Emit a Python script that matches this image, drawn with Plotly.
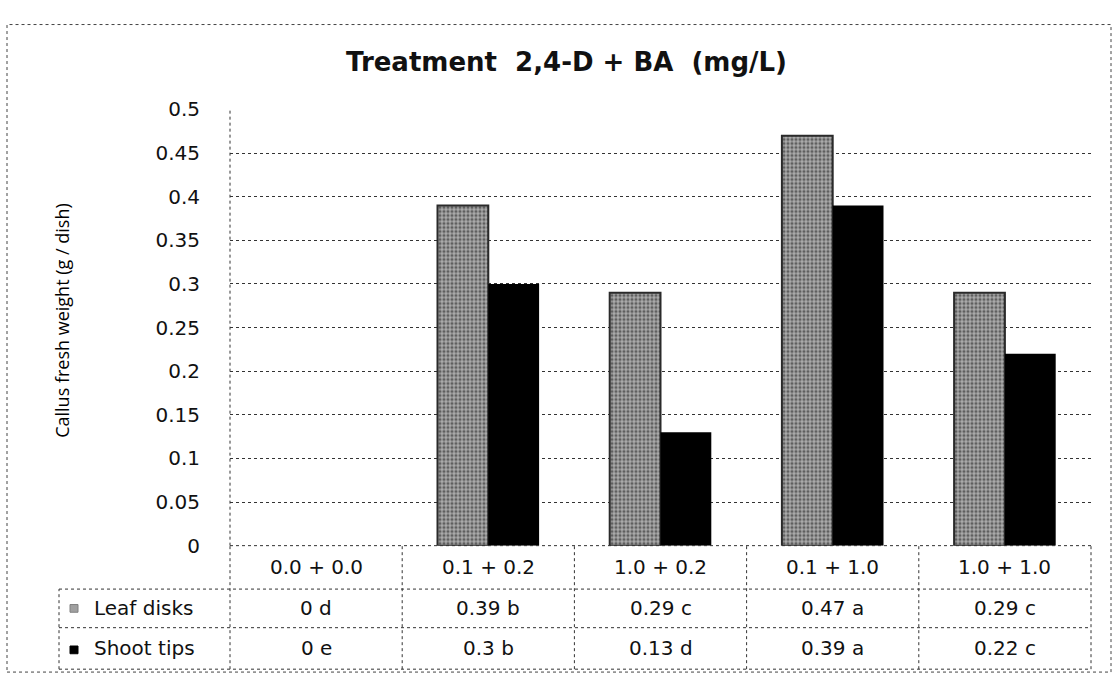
import plotly.graph_objects as go

# ---- data ----
categories = ["0.0 + 0.0", "0.1 + 0.2", "1.0 + 0.2", "0.1 + 1.0", "1.0 + 1.0"]
leaf_disks = [0, 0.39, 0.29, 0.47, 0.29]
shoot_tips = [0, 0.30, 0.13, 0.39, 0.22]
leaf_letters = ["d", "b", "c", "a", "c"]
shoot_letters = ["e", "b", "d", "a", "c"]
series_names = ["Leaf disks", "Shoot tips"]
y_ticks = [0, 0.05, 0.1, 0.15, 0.2, 0.25, 0.3, 0.35, 0.4, 0.45, 0.5]

W, H = 1115, 686
PL, PR, PT, PB = 230, 1091, 101, 553   # plot area in pixels
ROW1, ROW2, ROW3 = 598, 638, 681       # table row bottoms
LEG_L = 59

def px(x):
    return x / W

def py(y):
    return 1 - y / H

FONT = "DejaVu Sans"

fig = go.Figure()
fig.add_trace(go.Bar(
    x=categories, y=leaf_disks, name=series_names[0],
    marker=dict(color="#a8a8a8",
                line=dict(color="#2a2a2a", width=[0 if v == 0 else 2 for v in leaf_disks]),
                pattern=dict(shape=".", fgcolor="#111111", bgcolor="#acacac",
                             size=4, solidity=0.5)),
))
fig.add_trace(go.Bar(
    x=categories, y=shoot_tips, name=series_names[1],
    marker=dict(color="#000000", line=dict(width=0)),
))

shapes = []
dot = dict(color="#333333", width=1, dash="dot")
# outer border
shapes.append(dict(type="rect", xref="paper", yref="paper",
                   x0=px(7), x1=px(1111), y0=py(684), y1=py(13),
                   line=dict(color="#444444", width=1, dash="dot")))
# plot left border
shapes.append(dict(type="line", xref="paper", yref="paper",
                   x0=px(PL), x1=px(PL), y0=py(PB), y1=py(PT), line=dot))
# table horizontal lines
shapes.append(dict(type="line", xref="paper", yref="paper",
                   x0=px(PL), x1=px(PR), y0=py(PB), y1=py(PB), line=dot))
for yy in (ROW1, ROW2, ROW3):
    shapes.append(dict(type="line", xref="paper", yref="paper",
                       x0=px(LEG_L), x1=px(PR), y0=py(yy), y1=py(yy), line=dot))
# table vertical lines
ncat = len(categories)
colw = (PR - PL) / ncat
for i in range(ncat + 1):
    xx = PL + i * colw
    shapes.append(dict(type="line", xref="paper", yref="paper",
                       x0=px(xx), x1=px(xx), y0=py(ROW3), y1=py(PB), line=dot))
shapes.append(dict(type="line", xref="paper", yref="paper",
                   x0=px(LEG_L), x1=px(LEG_L), y0=py(ROW3), y1=py(ROW1), line=dot))
# legend keys
shapes.append(dict(type="rect", xref="paper", yref="paper",
                   x0=px(70), x1=px(78), y0=py(622), y1=py(614),
                   fillcolor="#a0a0a0", line=dict(color="#808080", width=1)))
shapes.append(dict(type="rect", xref="paper", yref="paper",
                   x0=px(70), x1=px(78), y0=py(665), y1=py(657),
                   fillcolor="#000000", line=dict(color="#000000", width=1)))

annotations = []
tfont = dict(family=FONT, size=20, color="#111111")
for i, c in enumerate(categories):
    cx = px(PL + (i + 0.5) * colw)
    annotations.append(dict(x=cx, y=py((PB + ROW1) / 2), xref="paper", yref="paper",
                            xanchor="center", yanchor="middle",
                            text=c, showarrow=False, font=tfont))
    annotations.append(dict(x=cx, y=py((ROW1 + ROW2) / 2), xref="paper", yref="paper",
                            xanchor="center", yanchor="middle",
                            text=f"{leaf_disks[i]:g} {leaf_letters[i]}", showarrow=False, font=tfont))
    annotations.append(dict(x=cx, y=py((ROW2 + ROW3) / 2), xref="paper", yref="paper",
                            xanchor="center", yanchor="middle",
                            text=f"{shoot_tips[i]:g} {shoot_letters[i]}", showarrow=False, font=tfont))
annotations.append(dict(x=px(92), y=py((ROW1 + ROW2) / 2), xref="paper", yref="paper",
                        xanchor="left", yanchor="middle",
                        text=series_names[0], showarrow=False, font=tfont))
annotations.append(dict(x=px(92), y=py((ROW2 + ROW3) / 2), xref="paper", yref="paper",
                        xanchor="left", yanchor="middle",
                        text=series_names[1], showarrow=False, font=tfont))
# title
annotations.append(dict(x=px(566), y=py(52), xref="paper", yref="paper",
                        xanchor="center", yanchor="middle",
                        text="<b>Treatment  2,4-D + BA  (mg/L)</b>", showarrow=False,
                        font=dict(family=FONT, size=26, color="#111111")))
# y-axis title
annotations.append(dict(x=px(62), y=py(320), xref="paper", yref="paper",
                        xanchor="center", yanchor="middle",
                        text="Callus fresh weight (g / dish)", textangle=-90,
                        showarrow=False,
                        font=dict(family="Open Sans", size=18, color="#000000")))

fig.update_layout(
    width=W, height=H,
    margin=dict(l=0, r=0, t=0, b=0),
    paper_bgcolor="white", plot_bgcolor="white",
    barmode="group", bargap=0.41, bargroupgap=0,
    showlegend=False,
    shapes=shapes, annotations=annotations,
    xaxis=dict(domain=[px(PL), px(PR)], range=[-0.5, ncat - 0.5],
               showticklabels=False, showgrid=False, zeroline=False, showline=False,
               anchor="y"),
    yaxis=dict(domain=[py(PB), py(PT)], range=[0, 0.5],
               tickvals=y_ticks, ticktext=[f"{t:g}" for t in y_ticks],
               showgrid=True, gridcolor="#333333", griddash="dot", gridwidth=1,
               zeroline=False, showline=False,
               ticks="outside", ticklen=25, tickcolor="rgba(0,0,0,0)",
               tickfont=dict(family=FONT, size=20, color="#111111")),
)

fig.write_html("out.html")
